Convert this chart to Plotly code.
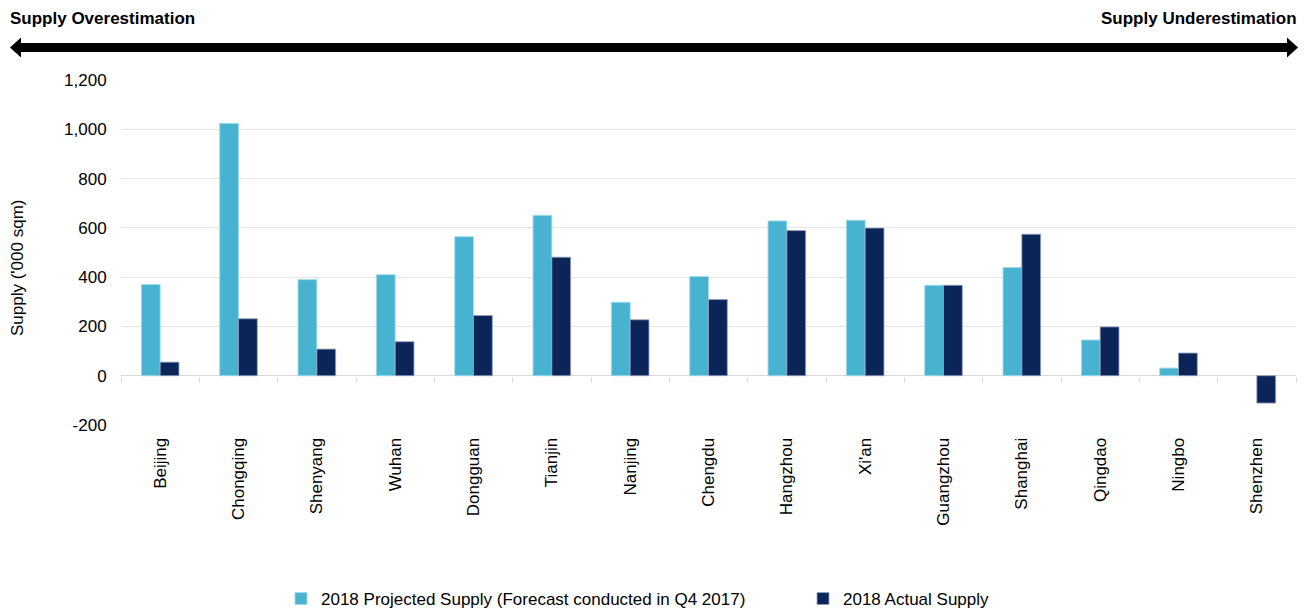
import plotly.graph_objects as go

cities = ["Beijing", "Chongqing", "Shenyang", "Wuhan", "Dongguan", "Tianjin", "Nanjing",
          "Chengdu", "Hangzhou", "Xi'an", "Guangzhou", "Shanghai", "Qingdao", "Ningbo", "Shenzhen"]
projected = [370, 1024, 390, 410, 564, 651, 298, 403, 628, 631, 367, 439, 145, 31, None]
actual = [55, 231, 108, 138, 244, 481, 227, 309, 589, 599, 367, 574, 198, 92, -111]
y_ticks = [-200, 0, 200, 400, 600, 800, 1000, 1200]
y_tick_text = ["-200", "0", "200", "400", "600", "800", "1,000", "1,200"]

W, H = 1304, 613
L, R, T, B = 121, 8, 80, 188
PW, PH = W - L - R, H - T - B

FONT = "Liberation Sans, Arial, sans-serif"
FS = 17
LIGHT = "#48B3D1"
NAVY = "#0B2559"


def px(x):
    return (x - L) / PW


def py(y):
    return (H - B - y) / PH


fig = go.Figure()
fig.add_trace(go.Bar(
    x=cities, y=projected, name="2018 Projected Supply (Forecast conducted in Q4 2017)",
    marker=dict(color=LIGHT, line=dict(color="rgba(160,220,235,0.9)", width=1)),
    legend="legend",
))
fig.add_trace(go.Bar(
    x=cities, y=actual, name="2018 Actual Supply",
    marker=dict(color=NAVY, line=dict(color="rgba(150,160,190,0.8)", width=1)),
    legend="legend2",
))

# invisible helper trace that carries the boundary tick marks on the zero line
fig.add_trace(go.Scatter(x=[0], y=[0], xaxis="x2", mode="markers",
                         marker=dict(opacity=0), showlegend=False, hoverinfo="skip"))

# double-headed arrow above the plot
x0, x1 = 10, 1298
yc = 47.5
hb = 4.5     # half bar thickness
hh = 10      # half head height
hl = 11      # head length
pts = [
    (x0, yc), (x0 + hl, yc - hh), (x0 + hl, yc - hb), (x1 - hl, yc - hb), (x1 - hl, yc - hh),
    (x1, yc), (x1 - hl, yc + hh), (x1 - hl, yc + hb), (x0 + hl, yc + hb), (x0 + hl, yc + hh),
]
path = "M " + " L ".join(f"{px(a):.5f},{py(b):.5f}" for a, b in pts) + " Z"

legend_common = dict(
    orientation="h", yanchor="middle", y=py(599), xanchor="left",
    font=dict(family=FONT, size=FS, color="#000000"),
    itemwidth=30, bgcolor="rgba(0,0,0,0)",
)

fig.update_layout(
    width=W, height=H,
    margin=dict(l=L, r=R, t=T, b=B, autoexpand=False),
    paper_bgcolor="white", plot_bgcolor="white",
    font=dict(family=FONT, size=FS, color="#000000"),
    barmode="group", bargap=0.52, bargroupgap=0,
    xaxis=dict(
        type="category", tickangle=-90, showgrid=False, zeroline=False,
        ticks="outside", ticklen=5, tickcolor="rgba(0,0,0,0)",
        tickfont=dict(family=FONT, size=FS, color="#000000"),
        range=[-0.5, 14.5], fixedrange=True, automargin=False,
    ),
    xaxis2=dict(
        overlaying="x", anchor="free", position=py(375.5), range=[-0.5, 14.5],
        tickvals=[i - 0.5 for i in range(16)], ticks="outside", ticklen=5,
        tickcolor="#D9D9D9", tickwidth=1, showticklabels=False, showgrid=False,
        zeroline=False, showline=False, automargin=False,
    ),
    yaxis=dict(
        range=[-200, 1200], tickvals=y_ticks, ticktext=y_tick_text,
        showgrid=True, gridcolor="#E6E6E6", gridwidth=1.3,
        zeroline=True, zerolinecolor="#D9D9D9", zerolinewidth=1.3,
        ticks="outside", ticklen=10, tickcolor="rgba(0,0,0,0)",
        tickfont=dict(family=FONT, size=FS, color="#000000"),
        fixedrange=True, automargin=False,
    ),
    legend=dict(legend_common, x=px(281)),
    legend2=dict(legend_common, x=px(803)),
    shapes=[dict(type="path", xref="paper", yref="paper", path=path,
                 fillcolor="#000000", line=dict(width=0))],
    annotations=[
        dict(text="<b>Supply Overestimation</b>", xref="paper", yref="paper",
             x=px(8), y=py(18), xanchor="left", yanchor="middle", showarrow=False,
             font=dict(family=FONT, size=FS, color="#000000")),
        dict(text="<b>Supply Underestimation</b>", xref="paper", yref="paper",
             x=px(1299), y=py(18), xanchor="right", yanchor="middle", showarrow=False,
             font=dict(family=FONT, size=FS, color="#000000")),
        dict(text="Supply ('000 sqm)", xref="paper", yref="paper",
             x=px(17), y=py(268), xanchor="center", yanchor="middle", showarrow=False,
             textangle=-90, font=dict(family=FONT, size=FS, color="#000000")),
    ],
    showlegend=True,
)

fig.write_html("out.html")
